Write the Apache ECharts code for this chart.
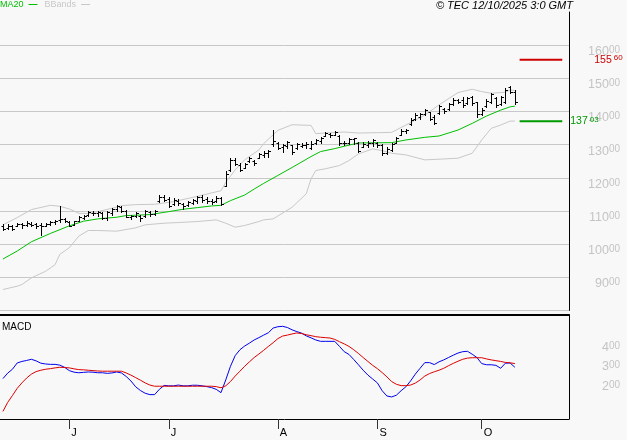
<!DOCTYPE html>
<html><head><meta charset="utf-8">
<script src="https://cdn.jsdelivr.net/npm/echarts@6/dist/echarts.min.js"></script>
<style>html,body{margin:0;padding:0;background:#f8f8f8}#c{width:627px;height:440px}</style>
</head><body><div id="c"></div>
<script>
// ---- data ----
const firstBarIndex = -14;               // bar number of first bar (0 = first bar of June)
const monthStarts = [0, 21, 44, 65, 87];  // bar numbers of first trading day of each month
const monthLabels = ['J', 'J', 'A', 'S', 'O'];

const opens = [105.5,105.0,105.4,105.6,106.0,105.8,106.2,106.0,105.8,105.6,106.1,106.6,107.2,107.5,
106.6,105.9,107.0,108.0,108.7,109.5,109.3,109.4,108.0,109.5,110.6,111.2,110.0,108.2,108.6,108.6,108.5,109.6,109.2,
113.0,114.2,113.5,112.0,113.0,112.0,111.8,112.5,113.0,114.2,113.6,113.0,113.0,113.8,117.6,122.2,125.5,124.0,122.9,125.1,125.2,126.0,126.8,127.6,130.2,
130.5,129.2,129.5,129.8,129.0,129.6,130.0,129.0,130.5,131.0,132.7,133.2,133.0,132.5,130.4,130.5,131.6,130.5,129.4,129.8,130.6,
130.4,129.8,127.6,128.4,130.6,133.0,134.0,136.2,137.7,138.2,139.2,139.7,138.4,139.5,140.6,140.6,142.3,143.4,143.5,142.6,144.3,142.8,
139.3,141.6,143.0,144.2,142.4,143.0,147.4,146.0];
const highs = [106.1,106.2,105.9,106.4,106.4,106.9,106.7,106.4,106.4,106.4,106.9,107.4,111.4,107.9,
106.9,107.1,108.4,108.9,109.9,110.1,110.1,109.7,109.9,110.9,111.9,111.4,110.4,108.9,109.8,108.8,110.3,110.0,110.3,
114.8,114.8,114.1,113.8,113.5,112.3,113.1,113.5,114.5,114.8,114.1,113.5,114.5,114.1,121.9,125.9,126.1,124.4,124.6,126.4,125.4,127.4,128.2,128.4,134.3,
130.7,130.2,131.2,130.0,130.5,130.4,130.7,131.2,131.8,132.3,133.8,133.5,134.1,132.8,131.2,132.1,132.0,130.7,130.7,131.0,131.8,
130.7,130.2,129.2,130.4,132.2,134.6,134.6,137.9,139.6,139.4,140.6,139.9,138.9,142.0,140.9,142.5,144.0,143.7,144.3,144.5,144.7,143.0,
140.9,143.7,145.7,144.5,144.7,147.0,147.7,146.5];
const lows = [104.1,104.7,104.1,105.4,104.9,105.4,105.4,104.9,102.6,105.4,105.7,106.1,106.7,106.7,
105.4,105.7,106.9,107.6,108.4,108.9,108.6,107.7,107.4,108.9,109.9,109.7,108.1,107.7,108.3,107.0,108.3,108.5,108.8,
112.8,113.1,111.3,111.8,111.8,110.5,111.5,112.1,112.5,112.8,112.5,112.1,112.8,111.8,117.4,121.9,123.9,121.9,122.9,124.9,123.9,125.9,126.3,126.4,129.7,
128.7,127.7,129.0,127.2,128.7,129.2,129.0,128.7,130.2,130.4,132.5,132.3,132.8,130.0,130.0,130.2,130.2,127.7,129.2,129.2,129.7,
129.4,127.0,127.2,128.0,130.4,132.9,133.6,135.9,137.4,137.6,138.9,137.4,136.2,139.2,139.6,140.4,142.0,142.5,141.4,142.3,142.0,138.2,
138.9,141.4,142.7,141.4,142.0,142.5,145.5,142.3];
const closes = [104.6,105.6,104.5,106.0,105.8,106.4,105.9,105.6,105.4,106.0,106.6,107.1,107.6,106.9,
105.6,106.9,108.1,108.6,109.6,109.4,109.8,108.0,109.6,110.6,111.5,110.1,108.3,108.6,109.3,108.0,110.0,109.2,110.1,
114.3,113.4,111.6,113.3,112.4,111.4,112.6,113.2,114.1,113.4,112.9,112.6,114.0,112.2,121.2,125.3,124.3,122.4,124.2,125.9,124.4,127.1,127.6,128.0,131.0,
129.0,129.8,130.8,127.8,130.2,130.0,130.3,130.2,131.5,132.0,133.4,132.8,133.8,130.4,130.6,131.8,131.9,128.2,130.3,130.6,131.4,
129.8,127.4,128.6,130.2,131.9,134.2,134.4,137.5,139.0,139.1,140.3,137.8,136.6,141.5,140.2,142.2,143.6,142.9,142.0,144.0,142.6,139.2,
140.5,143.2,145.2,142.0,144.3,146.5,145.9,142.8];

// moving average and Bollinger bands, read at bar numbers [bar, value]
const ma20 = [[-14,95.5],[-11,97.9],[-8,100.7],[-4,103.2],[0,105.5],[3,106.9],[6,107.6],[10,108.1],[12,108.6],[14,108.7],
[17,108.9],[21,109.8],[24,110.5],[27,111.0],[30,111.5],[32,111.7],[34,113.1],[37,114.8],[39,116.6],[41,118.3],[44,120.7],
[47,123.1],[51,126.4],[53,127.9],[56,128.8],[58,129.5],[61,130.5],[68,130.6],[71,131.4],[75,132.2],[78,132.6],[82,134.4],
[85,136.4],[88,138.6],[91,140.4],[93,141.4],[94,141.6]];
const bbUpper = [[-14,105.8],[-11,108.0],[-8,110.4],[-4,111.7],[-2,111.4],[0,110.6],[2,109.3],[4,109.2],[6,109.8],[9,110.8],
[11,111.6],[14,111.9],[18,112.0],[22,112.8],[27,114.4],[32,116.1],[33,118.6],[35,122.4],[37,125.4],[40,128.4],[41,130.3],
[44,134.3],[47,136.0],[51,135.8],[52,133.3],[54,133.5],[58,133.8],[61,133.5],[65,133.6],[68,133.7],[71,135.9],[75,138.9],
[78,142.0],[82,145.7],[85,146.7],[87,146.0],[89,145.5],[92,145.8],[93,146.5],[94,146.3]];
const bbLower = [[-14,86.3],[-11,87.3],[-10,87.8],[-8,89.8],[-5,91.8],[-3,93.8],[-2,96.9],[0,98.9],[2,102.4],[4,104.1],
[6,104.1],[10,103.9],[12,104.4],[14,104.9],[16,105.8],[20,106.3],[23,106.5],[27,106.8],[31,107.3],[33,106.3],[35,105.1],
[37,105.6],[40,106.8],[41,107.3],[43,107.6],[47,111.1],[50,115.2],[51,119.7],[52,122.2],[54,122.7],[57,123.7],[59,125.2],
[61,127.2],[64,128.7],[66,128.2],[68,127.4],[71,126.9],[75,125.4],[78,125.6],[82,125.9],[85,127.4],[87,131.4],[89,134.9],
[91,135.9],[93,137.1],[94,137.1]];

// MACD and signal, one value per bar
const macdLine = [2.07,2.35,2.55,2.87,2.95,3.00,3.06,2.98,2.86,2.82,2.80,2.80,2.76,2.65,
2.48,2.40,2.37,2.39,2.41,2.40,2.37,2.37,2.34,2.36,2.41,2.36,2.18,1.95,1.65,1.46,1.32,1.25,1.25,1.52,
1.72,1.70,1.70,1.74,1.70,1.70,1.73,1.73,1.70,1.66,1.61,1.52,1.35,2.00,2.70,3.25,3.55,3.74,3.89,4.05,
4.17,4.30,4.42,4.66,4.73,4.75,4.69,4.57,4.48,4.40,4.26,4.16,4.05,3.98,3.98,3.98,3.98,3.72,3.45,3.31,
3.05,2.78,2.50,2.25,2.05,1.85,1.45,1.18,1.13,1.22,1.45,1.65,1.95,2.30,2.60,2.89,2.89,2.79,2.93,3.03,
3.15,3.27,3.38,3.45,3.47,3.32,3.15,2.84,2.78,2.78,2.75,2.60,2.86,2.87,2.65];
const signalLine = [0.39,0.85,1.20,1.57,1.85,2.10,2.30,2.43,2.50,2.55,2.58,2.62,2.65,2.64,
2.62,2.57,2.53,2.52,2.50,2.48,2.46,2.45,2.45,2.45,2.45,2.45,2.36,2.25,2.12,1.99,1.85,1.74,1.68,1.68,
1.68,1.68,1.68,1.68,1.68,1.68,1.68,1.68,1.68,1.68,1.68,1.66,1.60,1.70,1.92,2.20,2.45,2.70,2.93,3.15,
3.33,3.52,3.72,3.91,4.12,4.25,4.30,4.36,4.41,4.38,4.32,4.27,4.22,4.19,4.17,4.15,4.08,3.96,3.85,3.72,
3.55,3.36,3.15,2.95,2.75,2.58,2.38,2.16,1.92,1.78,1.71,1.71,1.74,1.84,2.00,2.20,2.33,2.42,2.50,2.60,
2.73,2.85,2.96,3.06,3.12,3.14,3.14,3.14,3.08,3.03,2.99,2.95,2.90,2.88,2.84];

const priceTicks = [90,100,110,120,130,140,150,160];
const macdTicks = [2,3,4];
const resistanceLevel = 155.60;
const supportLevel = 137.03;
const levelBars = [95, 104];
const stamp = '© TEC 12/10/2025 3:0 GMT';

// ---- chart ----
const FONT = '"Liberation Sans", Arial, sans-serif';
const XMIN = -14.62, XMAX = 105.42;
function sup(v){ const s = Number(v).toFixed(2).split('.'); return '{a|' + s[0] + '}{b|' + s[1] + '}'; }
const axisRich = {
  a: {fontSize: 12.5, color: '#c4c4c4', fontFamily: FONT, verticalAlign: 'top'},
  b: {fontSize: 10, color: '#c4c4c4', fontFamily: FONT, verticalAlign: 'top'}
};
function levelRich(col){
  return {a: {fontSize: 10.5, color: col, fontFamily: FONT, verticalAlign: 'top'},
          b: {fontSize: 8, color: col, fontFamily: FONT, verticalAlign: 'top', padding: [0,0,0,2]}};
}
const bars = highs.map((h, k) => [k + firstBarIndex, opens[k], h, lows[k], closes[k]]);
const idx = arr => arr.map((v, k) => [k + firstBarIndex, v]);

const chart = echarts.init(document.getElementById('c'), null, {renderer: 'canvas'});
chart.setOption({
  animation: false,
  backgroundColor: '#f8f8f8',
  textStyle: {fontFamily: FONT},
  title: [
    {text: stamp, right: 54, top: 0, padding: 0,
     textStyle: {fontSize: 11, fontStyle: 'italic', fontWeight: 'normal', color: '#000', fontFamily: FONT}},
    {text: 'MACD', left: 2, top: 322, padding: 0,
     textStyle: {fontSize: 10, fontWeight: 'normal', color: '#000', fontFamily: FONT}}
  ],
  legend: {
    left: 0, top: 0, padding: 0, itemGap: 7, itemWidth: 9, itemHeight: 1, icon: 'rect', align: 'right',
    selectedMode: false,
    textStyle: {fontSize: 9, fontFamily: FONT},
    data: [{name: 'MA20', textStyle: {color: '#00c000'}}, {name: 'BBands', textStyle: {color: '#c8c8c8'}}]
  },
  grid: [
    {left: 0, top: 12, width: 569, height: 298.4},
    {left: 0, top: 315, width: 569, height: 104}
  ],
  xAxis: [
    {gridIndex: 0, type: 'value', min: XMIN, max: XMAX, show: false, axisLine: {onZero: false}},
    {gridIndex: 1, type: 'value', min: XMIN, max: XMAX, position: 'bottom',
     axisLine: {show: true, onZero: false, lineStyle: {color: '#000', width: 1}},
     axisTick: {show: true, customValues: monthStarts, length: 10, lineStyle: {color: '#333'}},
     axisLabel: {show: true, customValues: monthStarts, formatter: v => monthLabels[monthStarts.indexOf(v)],
                 align: 'left', padding: [0,0,0,2], margin: 8, fontSize: 11, color: '#000', fontFamily: FONT},
     splitLine: {show: false}},
    {gridIndex: 1, type: 'value', min: XMIN, max: XMAX, position: 'top',
     axisLine: {show: true, onZero: false, lineStyle: {color: '#000', width: 2}},
     axisTick: {show: false}, axisLabel: {show: false}, splitLine: {show: false}}
  ],
  yAxis: [
    {gridIndex: 0, type: 'value', position: 'right', min: 80, max: 170, interval: 10,
     axisLine: {show: true, onZero: false, lineStyle: {color: '#000'}}, axisTick: {show: false},
     axisLabel: {customValues: priceTicks, formatter: sup, rich: axisRich, align: 'right', margin: 51, verticalAlign: 'top'},
     splitLine: {show: true, showMaxLine: false, lineStyle: {color: '#c8c8c8', width: 1}}},
    {gridIndex: 1, type: 'value', position: 'right', min: 0, max: 5.33,
     axisLine: {show: true, onZero: false, lineStyle: {color: '#000'}}, axisTick: {show: false},
     axisLabel: {customValues: macdTicks, formatter: sup, rich: axisRich, align: 'right', margin: 51, verticalAlign: 'top'},
     splitLine: {show: false}}
  ],
  series: [
    {name: 'BBands', type: 'line', xAxisIndex: 0, yAxisIndex: 0, data: bbUpper, showSymbol: false,
     color: '#c8c8c8', lineStyle: {color: '#c8c8c8', width: 1}},
    {name: 'BBands', type: 'line', xAxisIndex: 0, yAxisIndex: 0, data: bbLower, showSymbol: false,
     color: '#c8c8c8', lineStyle: {color: '#c8c8c8', width: 1}},
    {name: 'MA20', type: 'line', xAxisIndex: 0, yAxisIndex: 0, data: ma20, showSymbol: false,
     color: '#00c000', lineStyle: {color: '#00c000', width: 1}, z: 3},
    {name: 'Price', type: 'custom', xAxisIndex: 0, yAxisIndex: 0, data: bars, encode: {x: 0, y: [2, 3]}, z: 4,
     renderItem: function (params, api) {
       const i = api.value(0);
       const pH = api.coord([i, api.value(2)]), pL = api.coord([i, api.value(3)]);
       const pO = api.coord([i, api.value(1)]), pC = api.coord([i, api.value(4)]);
       const x = Math.round(pH[0]) + 0.5;
       const yo = Math.round(pO[1]) + 0.5, yc = Math.round(pC[1]) + 0.5;
       const st = {stroke: '#000', lineWidth: 1};
       return {type: 'group', children: [
         {type: 'line', shape: {x1: x, y1: Math.round(pH[1]), x2: x, y2: Math.round(pL[1]) + 1}, style: st},
         {type: 'line', shape: {x1: x - 2, y1: yo, x2: x, y2: yo}, style: st},
         {type: 'line', shape: {x1: x, y1: yc, x2: x + 2.5, y2: yc}, style: st}
       ]};
     }},
    {name: 'Resistance', type: 'line', xAxisIndex: 0, yAxisIndex: 0, showSymbol: false, z: 5,
     data: levelBars.map(b => [b, resistanceLevel]), color: '#cc0000', lineStyle: {color: '#cc0000', width: 2},
     endLabel: {show: true, distance: 32, formatter: () => sup(resistanceLevel), rich: levelRich('#cc0000')}},
    {name: 'Support', type: 'line', xAxisIndex: 0, yAxisIndex: 0, showSymbol: false, z: 5,
     data: levelBars.map(b => [b, supportLevel]), color: '#009900', lineStyle: {color: '#009900', width: 2},
     endLabel: {show: true, distance: 8, formatter: () => sup(supportLevel), rich: levelRich('#009900')}},
    {name: 'MACD', type: 'line', xAxisIndex: 1, yAxisIndex: 1, data: idx(macdLine), showSymbol: false,
     color: '#0000ee', lineStyle: {color: '#0000ee', width: 1}},
    {name: 'Signal', type: 'line', xAxisIndex: 1, yAxisIndex: 1, data: idx(signalLine), showSymbol: false,
     color: '#dd0000', lineStyle: {color: '#dd0000', width: 1}}
  ]
});
</script></body></html>
